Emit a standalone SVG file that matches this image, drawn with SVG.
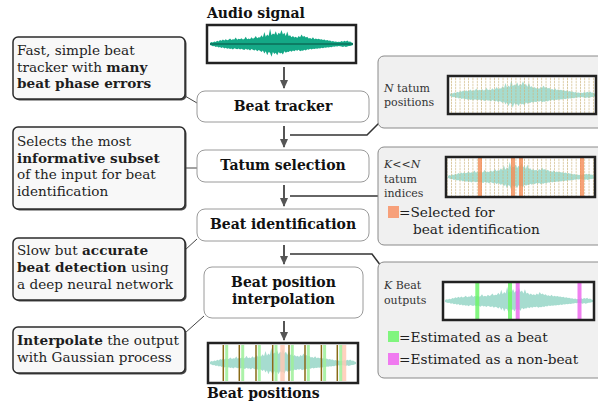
<svg xmlns="http://www.w3.org/2000/svg" width="598" height="401" viewBox="0 0 598 401">
<style>
.note{fill:#f8f8f8;stroke:#2b2b2b;stroke-width:1.5}
.shadow{fill:#4a4a4a}
.ntxt{font-family:"DejaVu Serif","Liberation Serif",serif;font-size:13.6px;fill:#1e1e1e}
.node{fill:#fff;stroke:#9a9a9a;stroke-width:1}
.lbl{font-family:"DejaVu Serif","Liberation Serif",serif;font-size:14px;font-weight:bold;fill:#111;text-anchor:middle}
.panel{fill:#f0f0f0;stroke:#8a8a8a;stroke-width:1}
.ptxt{font-family:"DejaVu Serif","Liberation Serif",serif;font-size:11px;fill:#333}
.leg{font-family:"DejaVu Serif","Liberation Serif",serif;font-size:13.7px;fill:#1e1e1e}
.title{font-family:"DejaVu Serif","Liberation Serif",serif;font-size:14px;font-weight:bold;fill:#111}
.wbox{fill:#fff;stroke:#222;stroke-width:2.5}
.arrow{stroke:#555;stroke-width:2;fill:none;marker-end:url(#ah)}
.link{stroke:#333;stroke-width:1.5;fill:none}
.thin{stroke:#444;stroke-width:1;fill:none}
</style>
<defs>
<marker id="ah" markerWidth="10" markerHeight="10" refX="8" refY="5" orient="auto" markerUnits="userSpaceOnUse">
<path d="M0,1 L9,5 L0,9 Z" fill="#555"/>
</marker>
<path id="wave" d="M0,-.06 L1,-.12 2,-.1 3,-.15 4,-.12 5,-.2 6,-.16 7,-.25 8,-.2 9,-.28 10,-.22 11,-.3 12,-.24 13,-.27 14,-.35 15,-.25 16,-.3 17,-.28 18,-.4 19,-.27 20,-.33 21,-.3 22,-.36 23,-.28 24,-.32 25,-.45 26,-.3 27,-.35 28,-.3 29,-.42 30,-.33 31,-.38 32,-.5 33,-.36 34,-.42 35,-.4 36,-.55 37,-.42 38,-.75 39,-.45 40,-.6 41,-.5 42,-.95 43,-.55 44,-.65 45,-.6 46,-.8 47,-.55 48,-.7 49,-.62 50,-.88 51,-.6 52,-.7 53,-.5 54,-.78 55,-.5 56,-.55 57,-.42 58,-.5 59,-.4 60,-.45 61,-.38 62,-.5 63,-.42 64,-.6 65,-.45 66,-.5 67,-.4 68,-.45 69,-.35 70,-.38 71,-.32 72,-.42 73,-.3 74,-.35 75,-.3 76,-.33 77,-.28 78,-.3 79,-.25 80,-.28 81,-.22 82,-.25 83,-.2 84,-.22 85,-.16 86,-.18 87,-.14 88,-.16 89,-.12 90,-.14 91,-.12 92,-.18 93,-.14 94,-.2 95,-.15 96,-.22 97,-.14 98,-.16 99,-.1 100,-.06 L100,.06 99,.09 98,.12 97,.12 96,.15 95,.18 94,.14 93,.18 92,.15 91,.14 90,.12 89,.15 88,.14 87,.17 86,.16 85,.2 84,.18 83,.22 82,.2 81,.24 80,.22 79,.26 78,.24 77,.28 76,.26 75,.3 74,.28 73,.32 72,.3 71,.34 70,.3 69,.36 68,.33 67,.4 66,.36 65,.42 64,.4 63,.45 62,.36 61,.42 60,.38 59,.45 58,.4 57,.48 56,.42 55,.5 54,.48 53,.55 52,.45 51,.65 50,.55 49,.6 48,.5 47,.7 46,.55 45,.62 44,.5 43,.8 42,.55 41,.5 40,.7 39,.45 38,.6 37,.4 36,.5 35,.42 34,.38 33,.45 32,.35 31,.4 30,.36 29,.32 28,.4 27,.33 26,.36 25,.3 24,.38 23,.34 22,.3 21,.35 20,.28 19,.33 18,.3 17,.27 16,.35 15,.28 14,.32 13,.26 12,.3 11,.24 10,.28 9,.2 8,.25 7,.18 6,.22 5,.15 4,.18 3,.12 2,.14 1,.1 0,.06 Z"/>
<pattern id="tat" patternUnits="userSpaceOnUse" x="451" y="0" width="4.3" height="3">
<rect x="0" y="0" width="0.8" height="2.3" fill="#ccb47c" opacity="0.8"/>
</pattern>
</defs>

<!-- connectors -->
<g id="connectors">
<line class="arrow" x1="284" y1="67" x2="284" y2="88"/>
<line class="arrow" x1="284" y1="126" x2="284" y2="147"/>
<line class="arrow" x1="284" y1="185" x2="284" y2="206"/>
<line class="arrow" x1="284" y1="245" x2="284" y2="264"/>
<line class="arrow" x1="284" y1="321" x2="284" y2="340"/>
<polyline class="link" points="290,135 367,135 379,123"/>
<polyline class="link" points="290,196 379,196"/>
<polyline class="link" points="290,254 372,254 381,266"/>
<line class="thin" x1="185" y1="96" x2="197" y2="103"/>
<line class="thin" x1="185" y1="168" x2="197" y2="168"/>
<line class="thin" x1="185" y1="250" x2="197" y2="239"/>
<line class="thin" x1="185" y1="333" x2="204" y2="316"/>
</g>

<!-- left notes -->
<g id="note1">
<rect class="shadow" x="14.5" y="38.5" width="172" height="62" rx="5"/>
<rect class="note" x="13" y="37" width="172" height="62" rx="5"/>
<text class="ntxt" x="17" y="55">Fast, simple beat</text>
<text class="ntxt" x="17" y="72">tracker with <tspan font-weight="bold">many</tspan></text>
<text class="ntxt" x="17" y="88" font-weight="bold">beat phase errors</text>
</g>
<g id="note2">
<rect class="shadow" x="14.5" y="128.5" width="172" height="82" rx="5"/>
<rect class="note" x="13" y="127" width="172" height="82" rx="5"/>
<text class="ntxt" x="17" y="146">Selects the most</text>
<text class="ntxt" x="17" y="163" font-weight="bold">informative subset</text>
<text class="ntxt" x="17" y="179">of the input for beat</text>
<text class="ntxt" x="17" y="196">identification</text>
</g>
<g id="note3">
<rect class="shadow" x="14.5" y="239.5" width="172" height="62" rx="5"/>
<rect class="note" x="13" y="238" width="172" height="62" rx="5"/>
<text class="ntxt" x="17" y="255">Slow but <tspan font-weight="bold">accurate</tspan></text>
<text class="ntxt" x="17" y="272"><tspan font-weight="bold">beat detection</tspan> using</text>
<text class="ntxt" x="17" y="289">a deep neural network</text>
</g>
<g id="note4">
<rect class="shadow" x="14.5" y="328.5" width="172" height="46" rx="5"/>
<rect class="note" x="13" y="327" width="172" height="46" rx="5"/>
<text class="ntxt" x="17" y="345"><tspan font-weight="bold">Interpolate</tspan> the output</text>
<text class="ntxt" x="17" y="362">with Gaussian process</text>
</g>

<!-- audio input -->
<g id="audio">
<text class="title" x="207" y="18">Audio signal</text>
<rect class="wbox" x="207" y="25" width="149" height="38"/>
<use href="#wave" transform="translate(210,44) scale(1.43,16)" fill="#14a886"/>
<line x1="210" y1="44" x2="353" y2="44" stroke="#0b6e58" stroke-width="1.5"/>
</g>

<!-- pipeline nodes -->
<g id="beat-tracker">
<rect class="node" x="197" y="91" width="172" height="31" rx="8"/>
<text class="lbl" x="283" y="111">Beat tracker</text>
</g>
<g id="tatum-selection">
<rect class="node" x="197" y="150" width="172" height="32" rx="8"/>
<text class="lbl" x="283" y="170">Tatum selection</text>
</g>
<g id="beat-identification">
<rect class="node" x="197" y="209" width="172" height="32" rx="8"/>
<text class="lbl" x="283" y="229">Beat identification</text>
</g>
<g id="beat-interpolation">
<rect class="node" x="204" y="267" width="159" height="51" rx="8"/>
<text class="lbl" x="283.5" y="287">Beat position</text>
<text class="lbl" x="283.5" y="304">interpolation</text>
</g>

<!-- output -->
<g id="output">
<rect class="wbox" x="208" y="343" width="150" height="40"/>
<use href="#wave" transform="translate(210,363) scale(1.46,16)" fill="#a6dccf"/>
<g stroke="#ffc9b5" stroke-width="4.5" opacity="0.85">
<line x1="282.5" y1="345" x2="282.5" y2="381"/>
<line x1="344" y1="345" x2="344" y2="381"/>
</g>
<g stroke="#9ef09a" stroke-width="3" opacity="0.85">
<line x1="226.7" y1="345" x2="226.7" y2="381"/>
<line x1="242.7" y1="345" x2="242.7" y2="381"/>
<line x1="259.3" y1="345" x2="259.3" y2="381"/>
<line x1="276" y1="345" x2="276" y2="381"/>
<line x1="292.3" y1="345" x2="292.3" y2="381"/>
<line x1="308.3" y1="345" x2="308.3" y2="381"/>
<line x1="324.6" y1="345" x2="324.6" y2="381"/>
<line x1="340.7" y1="345" x2="340.7" y2="381"/>
</g>
<g stroke="#8a6a16" stroke-width="1.5">
<line x1="223.3" y1="345" x2="223.3" y2="381"/>
<line x1="239.3" y1="345" x2="239.3" y2="381"/>
<line x1="256" y1="345" x2="256" y2="381"/>
<line x1="272.7" y1="345" x2="272.7" y2="381"/>
<line x1="289" y1="345" x2="289" y2="381"/>
<line x1="305" y1="345" x2="305" y2="381"/>
<line x1="321.4" y1="345" x2="321.4" y2="381"/>
<line x1="337.3" y1="345" x2="337.3" y2="381"/>
</g>
<text class="title" x="207" y="398">Beat positions</text>
</g>

<!-- right panels -->
<g id="panel-tatums">
<rect class="panel" x="378" y="56" width="230" height="72" rx="6"/>
<text class="ptxt" x="384" y="92"><tspan font-style="italic">N</tspan> tatum</text>
<text class="ptxt" x="384" y="106">positions</text>
<rect x="448" y="76" width="148" height="38" fill="#fff"/>
<use href="#wave" transform="translate(450,95) scale(1.46,16)" fill="#a6dccf"/>
<rect x="449" y="77" width="146" height="36" fill="url(#tat)"/>
<rect x="448" y="76" width="148" height="38" fill="none" stroke="#222" stroke-width="2.5"/>
</g>
<g id="panel-selection">
<rect class="panel" x="378" y="147" width="230" height="98" rx="6"/>
<text class="ptxt" x="384" y="168"><tspan font-style="italic">K</tspan>&lt;&lt;<tspan font-style="italic">N</tspan></text>
<text class="ptxt" x="384" y="183">tatum</text>
<text class="ptxt" x="384" y="197">indices</text>
<rect x="446" y="157" width="149" height="40" fill="#fff"/>
<use href="#wave" transform="translate(448,177) scale(1.47,16)" fill="#a6dccf"/>
<rect x="447" y="158" width="147" height="38" fill="url(#tat)"/>
<g stroke="#f58c55" stroke-width="4" opacity="0.8">
<line x1="480" y1="158" x2="480" y2="196"/>
<line x1="513" y1="158" x2="513" y2="196"/>
<line x1="521" y1="158" x2="521" y2="196"/>
<line x1="582" y1="158" x2="582" y2="196"/>
</g>
<rect x="446" y="157" width="149" height="40" fill="none" stroke="#222" stroke-width="2.5"/>
<rect x="388" y="206" width="11" height="12" fill="#f7a07a"/>
<text class="leg" x="399" y="217">=Selected for</text>
<text class="leg" x="413" y="234">beat identification</text>
</g>
<g id="panel-outputs">
<rect class="panel" x="378" y="262" width="230" height="116" rx="6"/>
<text class="ptxt" x="384" y="289"><tspan font-style="italic">K</tspan> Beat</text>
<text class="ptxt" x="384" y="304">outputs</text>
<rect x="443" y="282" width="151" height="38" fill="#fff"/>
<use href="#wave" transform="translate(445,301) scale(1.48,15)" fill="#a6dccf"/>
<g stroke-width="4" opacity="0.85">
<line x1="477.3" y1="283" x2="477.3" y2="319" stroke="#6ef56a"/>
<line x1="510" y1="283" x2="510" y2="319" stroke="#6ef56a"/>
<line x1="517.7" y1="283" x2="517.7" y2="319" stroke="#ee6aee"/>
<line x1="579.5" y1="283" x2="579.5" y2="319" stroke="#ee6aee"/>
</g>
<rect x="443" y="282" width="151" height="38" fill="none" stroke="#222" stroke-width="2.5"/>
<rect x="388" y="331" width="11" height="11" fill="#80f57e"/>
<text class="leg" x="399" y="342">=Estimated as a beat</text>
<rect x="388" y="353" width="11" height="12" fill="#f07af0"/>
<text class="leg" x="399" y="364">=Estimated as a non-beat</text>
</g>
</svg>
